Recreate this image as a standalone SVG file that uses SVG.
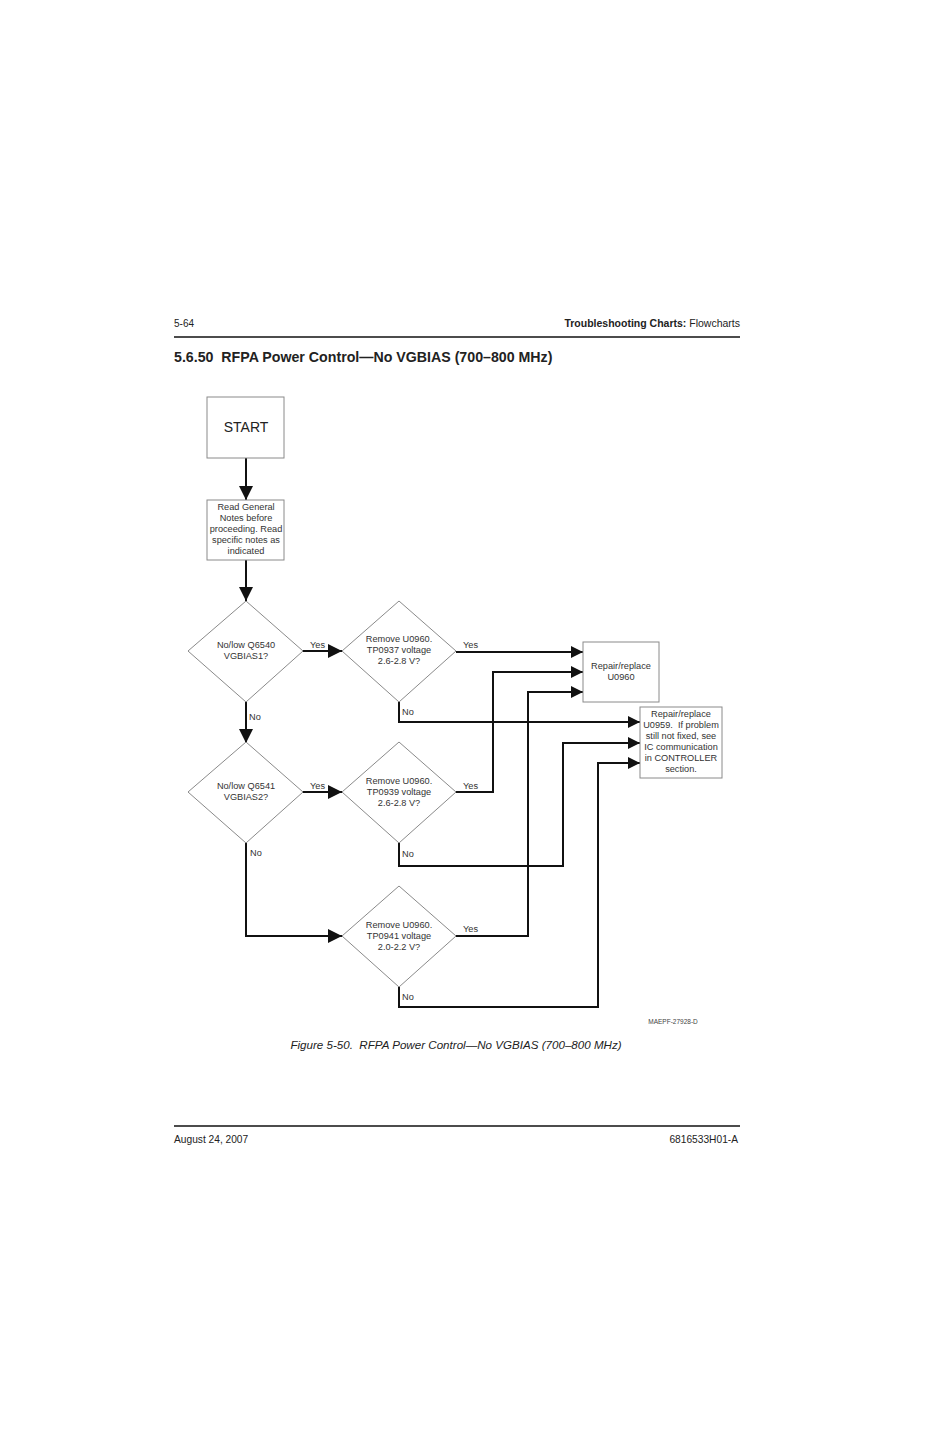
<svg xmlns="http://www.w3.org/2000/svg" width="926" height="1431" viewBox="0 0 926 1431">
<style>
text{font-family:"Liberation Sans",Arial,sans-serif;fill:#222}
.n{font-size:9.2px;text-anchor:middle;fill:#333}
.l{font-size:9.2px;fill:#333}
.shape{fill:#fff;stroke:#8a8a8a;stroke-width:1}
.c{fill:none;stroke:#111;stroke-width:2}
</style>
<defs>
<marker id="ah" markerWidth="12" markerHeight="12" refX="12" refY="6" orient="auto" markerUnits="userSpaceOnUse" viewBox="0 0 12 12">
<path d="M0,0 L12,6 L0,12 z" fill="#111"/>
</marker>
<marker id="ahb" markerWidth="14" markerHeight="14" refX="14" refY="7" orient="auto" markerUnits="userSpaceOnUse" viewBox="0 0 14 14">
<path d="M0,0 L14,7 L0,14 z" fill="#111"/>
</marker>
</defs>
<rect width="926" height="1431" fill="#fff"/>
<g id="header">
<text x="174" y="327" style="font-size:10px">5-64</text>
<text x="740" y="327" style="font-size:10.5px;text-anchor:end"><tspan font-weight="bold">Troubleshooting Charts:</tspan> Flowcharts</text>
<line x1="174" y1="337" x2="740" y2="337" stroke="#111" stroke-width="1.5"/>
<text x="174" y="362" style="font-size:14.2px;font-weight:bold">5.6.50&#160; RFPA Power Control—No VGBIAS (700–800 MHz)</text>
</g>
<g id="connectors">
<path class="c" d="M246,458 V500" marker-end="url(#ahb)"/>
<path class="c" d="M246,560 V601" marker-end="url(#ahb)"/>
<path class="c" d="M302,651 H342" marker-end="url(#ahb)"/>
<path class="c" d="M246,702 V743" marker-end="url(#ahb)"/>
<path class="c" d="M302,792 H342" marker-end="url(#ahb)"/>
<path class="c" d="M246,843 V936 H342" marker-end="url(#ahb)"/>
<path class="c" d="M456,652 H583" marker-end="url(#ah)"/>
<path class="c" d="M456,792 H493 V672 H583" marker-end="url(#ah)"/>
<path class="c" d="M456,936 H528 V692 H583" marker-end="url(#ah)"/>
<path class="c" d="M399,702 V722 H640" marker-end="url(#ah)"/>
<path class="c" d="M399,843 V866 H563 V743 H640" marker-end="url(#ah)"/>
<path class="c" d="M399,987 V1007 H598 V763 H640" marker-end="url(#ah)"/>
<text class="l" x="310" y="648">Yes</text>
<text class="l" x="463" y="648">Yes</text>
<text class="l" x="249" y="720">No</text>
<text class="l" x="402" y="715">No</text>
<text class="l" x="310" y="789">Yes</text>
<text class="l" x="463" y="789">Yes</text>
<text class="l" x="250" y="856">No</text>
<text class="l" x="402" y="857">No</text>
<text class="l" x="463" y="932">Yes</text>
<text class="l" x="402" y="1000">No</text>
</g>
<g id="start">
<rect class="shape" x="207" y="397" width="77" height="61"/>
<text x="246" y="432" style="font-size:14px;text-anchor:middle">START</text>
</g>
<g id="notes">
<rect class="shape" x="207" y="500" width="77" height="60"/>
<text class="n" x="246" y="510">Read General</text>
<text class="n" x="246" y="521">Notes before</text>
<text class="n" x="246" y="532">proceeding. Read</text>
<text class="n" x="246" y="543">specific notes as</text>
<text class="n" x="246" y="554">indicated</text>
</g>
<g id="d1">
<path class="shape" d="M246,601 L303,651 L246,702 L188,651 Z"/>
<text class="n" x="246" y="648">No/low Q6540</text>
<text class="n" x="246" y="659">VGBIAS1?</text>
</g>
<g id="d2">
<path class="shape" d="M399,601 L456,651 L399,702 L342,651 Z"/>
<text class="n" x="399" y="642">Remove U0960.</text>
<text class="n" x="399" y="653">TP0937 voltage</text>
<text class="n" x="399" y="664">2.6-2.8 V?</text>
</g>
<g id="d3">
<path class="shape" d="M246,742 L303,792 L246,843 L188,792 Z"/>
<text class="n" x="246" y="789">No/low Q6541</text>
<text class="n" x="246" y="800">VGBIAS2?</text>
</g>
<g id="d4">
<path class="shape" d="M399,742 L456,792 L399,843 L342,792 Z"/>
<text class="n" x="399" y="784">Remove U0960.</text>
<text class="n" x="399" y="795">TP0939 voltage</text>
<text class="n" x="399" y="806">2.6-2.8 V?</text>
</g>
<g id="d5">
<path class="shape" d="M399,886 L456,936 L399,987 L342,936 Z"/>
<text class="n" x="399" y="928">Remove U0960.</text>
<text class="n" x="399" y="939">TP0941 voltage</text>
<text class="n" x="399" y="950">2.0-2.2 V?</text>
</g>
<g id="u0960">
<rect class="shape" x="583" y="642" width="76" height="60"/>
<text class="n" x="621" y="669">Repair/replace</text>
<text class="n" x="621" y="680">U0960</text>
</g>
<g id="u0959">
<rect class="shape" x="640" y="707" width="82" height="71"/>
<text class="n" x="681" y="717">Repair/replace</text>
<text class="n" x="681" y="728">U0959.&#160; If problem</text>
<text class="n" x="681" y="739">still not fixed, see</text>
<text class="n" x="681" y="750">IC communication</text>
<text class="n" x="681" y="761">in CONTROLLER</text>
<text class="n" x="681" y="772">section.</text>
</g>
<g id="footer">
<text x="673" y="1024" style="font-size:6.5px;text-anchor:middle;fill:#444">MAEPF-27928-D</text>
<text x="456" y="1049" style="font-size:11.6px;font-style:italic;text-anchor:middle">Figure 5-50.&#160; RFPA Power Control—No VGBIAS (700–800 MHz)</text>
<line x1="174" y1="1126" x2="740" y2="1126" stroke="#111" stroke-width="1.5"/>
<text x="174" y="1143" style="font-size:10.2px">August 24, 2007</text>
<text x="738" y="1143" style="font-size:10.2px;text-anchor:end">6816533H01-A</text>
</g>
</svg>
